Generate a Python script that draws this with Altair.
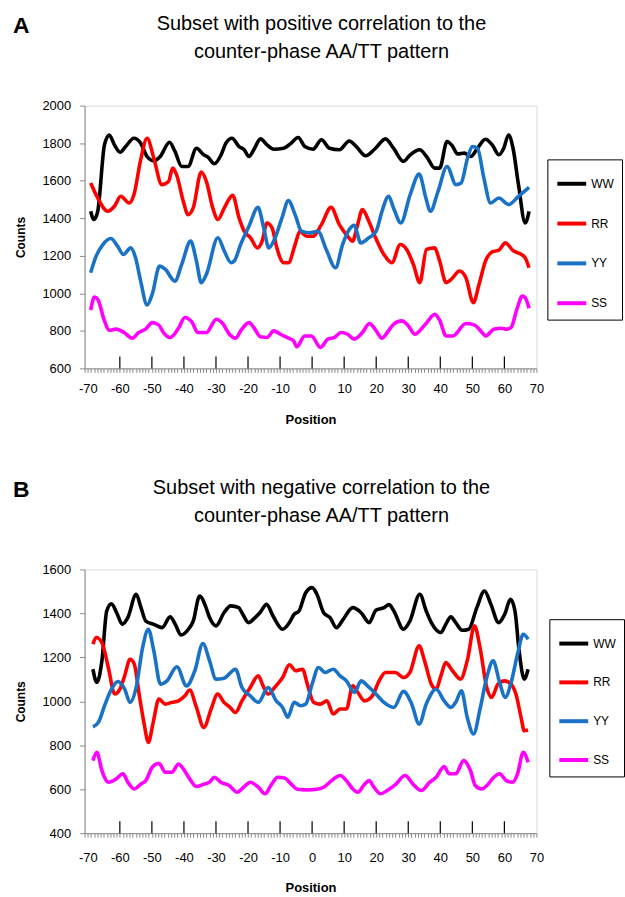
import altair as alt
import pandas as pd

SERIES = ["WW", "RR", "YY", "SS"]
COLORS = ["#000000", "#ff0000", "#1a72c6", "#ff00ff"]
X_TICKS_MINOR = list(range(-71, 71))
X_TICKS_MAJOR = [-60, -50, -40, -30, -20, -10, 0, 10, 20, 30, 40, 50, 60]

TITLE_A = ["Subset with positive correlation to the", "counter-phase AA/TT pattern"]
TITLE_B = ["Subset with negative correlation to the", "counter-phase AA/TT pattern"]

A_WW = [(-69.1,1437),(-68.1,1393),(-66.9,1437),(-64.8,1791),(-63.3,1844),(-61.7,1791),(-59.9,1752),(-58.2,1782),
        (-55.6,1826),(-53.5,1800),(-51.5,1729),(-49.4,1706),(-47.4,1729),(-44.5,1805),(-42.8,1756),(-40.7,1676),
        (-38.7,1676),(-36.1,1773),(-33.8,1738),(-32.5,1726),(-30.5,1690),(-28.4,1738),(-26.9,1800),(-25.0,1826),
        (-22.8,1782),(-21.2,1765),(-19.7,1729),(-18.2,1765),(-16.1,1823),(-14.1,1791),(-12.0,1768),(-8.9,1773),
        (-6.9,1795),(-4.3,1830),(-2.3,1782),(0.3,1768),(2.9,1818),(5.4,1773),(8.5,1765),(11.6,1812),(13.8,1782),
        (16.7,1733),(19.8,1773),(22.9,1823),(25.4,1773),(28.5,1703),(30.6,1738),(33.6,1765),(35.7,1729),(38.3,1667),
        (39.8,1667),(42.1,1809),(43.9,1782),(45.4,1742),(47.5,1747),(49.5,1729),(51.6,1773),(54.1,1821),(56.2,1791),
        (58.3,1738),(59.8,1773),(61.3,1844),(62.7,1773),(64.4,1579),(66.5,1375),(67.7,1437)]
A_RR = [(-69.1,1588),(-66.9,1508),(-63.8,1437),(-61.7,1464),(-59.7,1517),(-57.1,1481),(-55.6,1526),(-53.5,1711),
        (-51.5,1826),(-49.4,1720),(-46.9,1579),(-44.8,1596),(-43.5,1667),(-42.3,1632),(-40.2,1490),(-38.7,1419),
        (-37.1,1455),(-34.6,1646),(-33.0,1596),(-31.0,1455),(-29.4,1393),(-27.4,1455),(-24.8,1522),(-22.8,1402),
        (-21.2,1331),(-19.2,1296),(-17.1,1242),(-15.6,1278),(-14.1,1375),(-12.5,1349),(-11.0,1242),(-8.9,1163),
        (-7.4,1163),(-5.3,1260),(-3.8,1331),(-1.7,1304),(0.3,1304),(2.9,1366),(5.9,1458),(8.5,1366),(11.1,1304),
        (12.6,1278),(14.2,1366),(15.7,1446),(17.7,1384),(19.8,1296),(22.4,1207),(24.9,1163),(27.5,1260),(29.5,1234),
        (31.6,1154),(33.6,1057),(35.7,1234),(38.2,1242),(39.8,1172),(41.8,1057),(43.4,1074),(46.0,1119),(48.0,1083),
        (50.3,950),(52.1,1048),(54.1,1172),(56.2,1221),(58.3,1230),(60.3,1269),(62.9,1225),(64.9,1211),(66.5,1189),
        (67.7,1136)]
A_YY = [(-69.1,1110),(-67.4,1198),(-65.3,1260),(-62.8,1292),(-60.7,1251),(-58.9,1207),(-56.6,1242),(-55.1,1189),
        (-53.5,1065),(-51.5,938),(-49.9,995),(-47.6,1145),(-45.8,1127),(-42.8,1065),(-40.7,1154),(-37.9,1278),
        (-36.1,1172),(-34.6,1057),(-33.0,1101),(-29.4,1296),(-27.4,1225),(-25.3,1163),(-24.3,1172),(-22.3,1260),
        (-19.7,1357),(-16.9,1458),(-15.1,1349),(-13.5,1242),(-12.0,1278),(-9.4,1402),(-7.4,1494),(-5.3,1419),
        (-3.3,1331),(-0.7,1322),(1.8,1331),(4.4,1234),(7.3,1136),(9.5,1260),(11.6,1340),(13.1,1363),(15.2,1269),
        (17.7,1296),(20.0,1331),(21.8,1437),(23.9,1517),(25.4,1455),(27.7,1375),(30.6,1526),(33.4,1635),(35.5,1508),
        (36.9,1437),(39.3,1543),(42.1,1676),(44.9,1579),(46.5,1588),(48.5,1720),(50.0,1782),(51.6,1773),(53.6,1614),
        (55.7,1481),(58.3,1508),(61.3,1473),(64.4,1517),(67.7,1565)]
A_SS = [(-69.1,910),(-67.9,980),(-66.9,968),(-64.8,853),(-63.3,803),(-61.2,809),(-58.7,791),(-56.1,761),(-54.1,791),
        (-52.0,809),(-49.9,844),(-47.9,832),(-46.4,791),(-44.3,765),(-41.7,814),(-39.7,871),(-37.6,849),(-35.6,791),
        (-33.0,791),(-29.9,862),(-27.9,839),(-25.8,782),(-23.8,761),(-22.3,800),(-19.7,844),(-18.2,818),(-16.1,768),
        (-14.1,765),(-12.0,800),(-9.9,782),(-7.4,761),(-5.8,747),(-4.8,715),(-2.3,773),(-0.2,773),(2.6,711),(4.9,756),
        (7.0,765),(9.0,791),(11.1,782),(13.1,756),(15.7,791),(17.9,839),(20.0,800),(21.8,761),(23.4,790),(25.4,835),
        (28.0,853),(30.0,827),(32.1,782),(35.2,832),(38.3,888),(39.8,857),(41.8,773),(43.9,773),(48.0,839),(50.6,832),
        (52.6,800),(54.2,773),(56.7,809),(58.8,814),(60.8,809),(62.1,818),(63.9,915),(65.6,986),(66.5,977),(67.7,920)]

B_WW = [(-68.4,1146),(-67.2,1086),(-65.6,1184),(-64.1,1411),(-62.6,1444),(-61.0,1403),(-59.2,1350),(-57.5,1381),
        (-54.9,1487),(-53.4,1426),(-51.9,1365),(-49.4,1350),(-46.8,1335),(-44.3,1384),(-42.7,1350),(-40.9,1302),
        (-38.6,1328),(-37.1,1365),(-35.1,1479),(-33.1,1426),(-32.0,1381),(-30.0,1343),(-27.5,1403),(-25.4,1434),
        (-22.9,1426),(-21.9,1403),(-19.8,1358),(-17.8,1381),(-16.3,1403),(-14.2,1441),(-12.2,1388),(-9.2,1328),
        (-7.1,1358),(-5.6,1396),(-4.1,1411),(-2.0,1494),(0.0,1517),(1.5,1487),(3.6,1403),(5.6,1381),(7.6,1335),
        (9.7,1373),(12.7,1426),(15.3,1403),(17.8,1358),(19.9,1414),(22.4,1426),(24.0,1440),(25.5,1411),(28.5,1328),
        (30.5,1365),(33.6,1487),(35.6,1411),(37.2,1358),(40.2,1313),(41.7,1350),(43.3,1384),(44.8,1358),(46.8,1323),
        (48.9,1328),(51.4,1426),(53.8,1502),(55.8,1441),(58.2,1358),(60.1,1396),(61.9,1464),(63.3,1411),(64.6,1229),
        (66.2,1101),(67.4,1146)]
B_RR = [(-68.4,1260),(-67.4,1290),(-65.6,1267),(-63.6,1154),(-61.6,1033),(-60.0,1055),(-58.5,1116),(-56.8,1191),
        (-55.5,1169),(-53.9,1025),(-52.4,896),(-51.1,813),(-49.7,896),(-47.8,1010),(-45.8,987),(-43.8,995),
        (-41.7,1002),(-39.7,1025),(-38.2,1051),(-36.1,972),(-33.8,881),(-31.5,965),(-29.5,1033),(-27.5,995),
        (-25.6,972),(-23.9,949),(-21.9,1002),(-19.3,1063),(-16.8,1116),(-15.3,1070),(-13.7,1033),(-11.7,1063),
        (-9.2,1108),(-7.1,1166),(-5.1,1139),(-3.0,1146),(-1.5,1078),(0.5,995),(2.5,987),(4.6,1002),(6.6,942),
        (8.7,965),(10.7,965),(12.7,1070),(14.3,1040),(16.3,1002),(18.8,1025),(20.9,1093),(22.9,1131),(26.0,1131),
        (28.5,1108),(30.5,1131),(33.4,1252),(35.1,1184),(37.2,1078),(38.7,1055),(40.2,1116),(41.7,1176),(43.8,1139),
        (46.3,1101),(48.4,1184),(50.7,1343),(52.4,1244),(54.5,1063),(56.0,1018),(58.0,1078),(60.1,1093),(62.1,1078),
        (63.6,1033),(65.2,927),(66.2,866),(67.4,869)]
B_YY = [(-68.4,884),(-66.7,904),(-64.6,987),(-62.6,1055),(-60.6,1090),(-58.5,1055),(-56.8,995),(-54.9,1063),
        (-52.9,1244),(-51.1,1328),(-49.4,1229),(-47.3,1078),(-45.3,1093),(-42.2,1157),(-39.2,1070),(-36.6,1139),
        (-34.1,1263),(-32.0,1184),(-30.0,1101),(-27.5,1105),(-23.9,1146),(-21.9,1063),(-19.3,1025),(-16.8,995),
        (-13.7,1063),(-11.2,1002),(-9.2,972),(-7.6,927),(-5.6,995),(-3.6,980),(-2.0,987),(0.0,1078),(2.0,1154),
        (4.1,1131),(6.6,1146),(8.7,1116),(10.7,1093),(13.2,1040),(15.3,1093),(17.3,1070),(19.9,1033),(22.4,995),
        (25.5,972),(28.5,1045),(31.1,987),(33.4,896),(35.6,987),(38.7,1055),(41.2,1002),(43.3,972),(44.8,995),
        (46.6,1048),(48.4,927),(50.4,851),(52.4,965),(54.5,1108),(56.5,1184),(58.5,1086),(60.3,1018),(62.1,1086),
        (64.1,1214),(65.9,1305),(67.4,1282)]
B_SS = [(-68.4,730),(-67.2,768),(-65.6,685),(-63.6,632),(-61.1,647),(-59.0,670),(-57.5,632),(-55.5,601),(-53.4,624),
        (-51.9,639),(-49.9,700),(-47.8,718),(-45.8,677),(-43.8,677),(-41.7,715),(-40.2,692),(-38.2,647),(-36.1,612),
        (-34.1,621),(-32.0,632),(-30.5,654),(-28.5,632),(-25.9,617),(-23.4,586),(-21.4,609),(-19.3,632),(-16.8,609),
        (-14.7,579),(-12.7,621),(-10.7,654),(-8.6,651),(-6.6,624),(-4.6,600),(-1.5,597),(1.5,600),(3.6,609),(6.1,639),
        (8.7,662),(10.7,639),(12.7,601),(14.3,586),(16.3,621),(17.8,639),(19.3,609),(21.4,579),(23.4,594),(26.0,621),
        (29.0,662),(31.6,621),(34.1,594),(36.7,632),(38.7,654),(41.2,703),(42.8,670),(44.8,670),(47.3,730),(49.4,685),
        (50.9,617),(52.9,601),(55.0,624),(56.5,651),(58.5,670),(60.6,639),(62.6,632),(64.1,670),(65.9,768),(67.4,722)]

FONT = "Liberation Sans"
W = 454


def to_frame(groups):
    rows = []
    for name, pts in zip(SERIES, groups):
        for i, (x, y) in enumerate(pts):
            rows.append({"pos": x, "count": y, "series": name, "i": i})
    return pd.DataFrame(rows)


def panel(letter, title_lines, groups, ydom, ystep, leg_x, leg_y, hgt, x_lab_pad, row_pad):
    df = to_frame(groups)
    xscale = alt.Scale(domain=[-71, 70], nice=False, zero=False)
    xaxis = alt.Axis(values=X_TICKS_MINOR, tickSize=4, grid=False,
                     labelExpr="datum.value % 10 === 0 ? '' + datum.value : ''",
                     labelOverlap=False, labelBound=False, labelFlush=False, labelFontSize=13,
                     labelPadding=x_lab_pad, title="Position", titleFontSize=13, titleFontWeight="bold",
                     titlePadding=18)
    yaxis = alt.Axis(values=list(range(ydom[0], ydom[1] + 1, ystep)), tickSize=5, grid=False, labelFontSize=13,
                     labelPadding=9, title="Counts", titleFontSize=12, titleFontWeight="bold", titlePadding=14,
                     format="d")
    lines = alt.Chart(df).mark_line(strokeWidth=3.6, interpolate="monotone").encode(
        x=alt.X("pos:Q", scale=xscale, axis=xaxis, title="Position"),
        y=alt.Y("count:Q", scale=alt.Scale(domain=ydom, nice=False, zero=False), axis=yaxis, title="Counts"),
        color=alt.Color("series:N", scale=alt.Scale(domain=SERIES, range=COLORS), sort=SERIES,
                        legend=alt.Legend(orient="none", legendX=leg_x, legendY=leg_y, direction="vertical",
                                          symbolType="stroke", symbolStrokeWidth=4, symbolSize=841,
                                          labelFont=FONT, labelFontSize=12, labelColor="black", labelOffset=3,
                                          strokeColor="black", fillColor="white", padding=8, rowPadding=row_pad,
                                          title=None)),
        order="i:Q",
    )
    ticks = alt.Chart(pd.DataFrame({"pos": X_TICKS_MAJOR})).mark_rule(color="black", strokeWidth=1.2).encode(
        x=alt.X("pos:Q", scale=xscale, axis=xaxis, title="Position"),
        y=alt.value(hgt), y2=alt.value(hgt - 12),
    )
    lab = alt.Chart(pd.DataFrame({"t": [letter]})).mark_text(
        font=FONT, fontSize=23, fontWeight="bold", align="left", baseline="middle", color="black"
    ).encode(text="t:N", x=alt.value(-72), y=alt.value(-80))
    t1 = alt.Chart(pd.DataFrame({"t": [title_lines[0]]})).mark_text(
        font=FONT, fontSize=20, align="center", baseline="middle", color="black"
    ).encode(text="t:N", x=alt.value(238), y=alt.value(-82))
    t2 = alt.Chart(pd.DataFrame({"t": [title_lines[1]]})).mark_text(
        font=FONT, fontSize=20, align="center", baseline="middle", color="black"
    ).encode(text="t:N", x=alt.value(238), y=alt.value(-54))
    return alt.layer(lines, ticks, lab, t1, t2).properties(width=W, height=hgt)


pa = panel("A", TITLE_A, [A_WW, A_RR, A_YY, A_SS], [600, 2000], 200, 465, 54, 264, 10, 15)
pb = panel("B", TITLE_B, [B_WW, B_RR, B_YY, B_SS], [400, 1600], 200, 467, 50, 265, 14, 14)

chart = alt.vconcat(pa, pb, spacing=50).resolve_legend(color="independent").resolve_scale(
    color="independent"
).properties(
    padding={"left": 12, "top": 11, "right": 0, "bottom": 0}
).configure_view(stroke="#a6a6a6", strokeWidth=1).configure_axis(
    grid=False, domainColor="black", tickColor="black", labelColor="black", titleColor="black",
    labelFont=FONT, titleFont=FONT, domainWidth=1
).configure(background="white")

chart.save("out.html", embed_options={"renderer": "svg", "actions": False})
